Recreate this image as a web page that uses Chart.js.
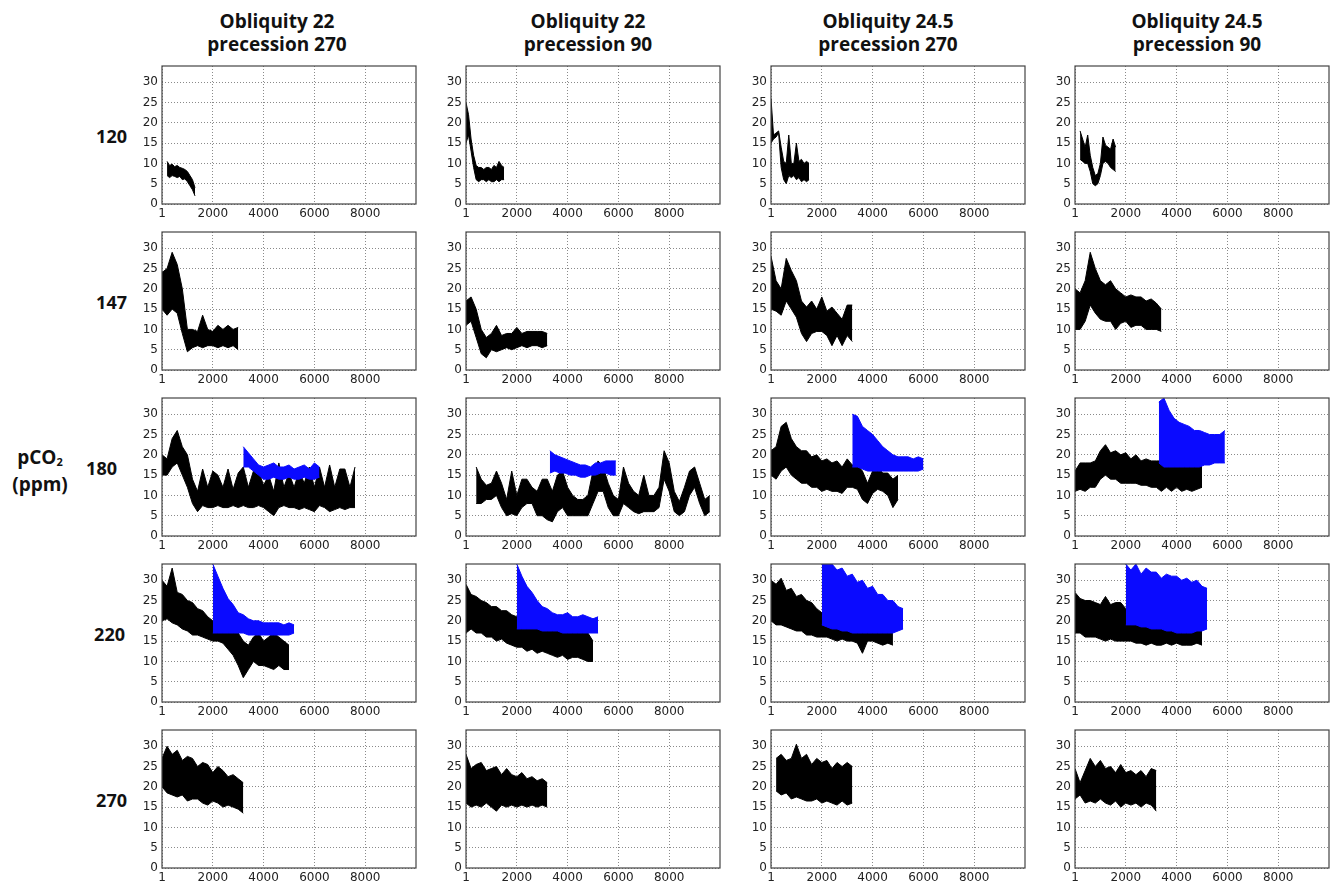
<!DOCTYPE html>
<html>
<head>
<meta charset="utf-8">
<script src="https://cdn.jsdelivr.net/npm/chart.js@4.4.1/dist/chart.umd.min.js"></script>
<style>
  body { margin: 0; background: #fff; width: 1331px; height: 888px; position: relative; overflow: hidden; font-family: "Open Sans", sans-serif; color: #111; }
  .head { position: absolute; top: 10px; width: 260px; text-align: center; font-weight: bold; font-size: 19px; line-height: 23px; }
  .rowlab { position: absolute; width: 60px; text-align: right; font-weight: bold; font-size: 18px; line-height: 20px; }
  .ylab { position: absolute; left: 0; top: 446px; width: 80px; text-align: center; font-weight: bold; font-size: 19px; line-height: 23px; }
  .ylab sub { font-size: 11px; vertical-align: -2px; }
  canvas { position: absolute; }
</style>
</head>
<body>
<div class="ylab">pCO<sub>2</sub><br>(ppm)</div>
<script>
const columns = [
  ["Obliquity 22", "precession 270"],
  ["Obliquity 22", "precession 90"],
  ["Obliquity 24.5", "precession 270"],
  ["Obliquity 24.5", "precession 90"]
];
const rows = ["120", "147", "180", "220", "270"];
const xTicks = [1, 2000, 4000, 6000, 8000];
const yTicks = [0, 5, 10, 15, 20, 25, 30];

// each run: [first year, spacing], then the low and high edge of the noisy trace
const x120a = [200, 100];
const lo120a = [7, 6.5, 7, 6.8, 6.5, 6.8, 6, 6.2, 5.5, 4.5, 3.5, 2];
const hi120a = [10.5, 9.5, 9.8, 9.2, 9.5, 9, 8.8, 8.5, 8, 7, 6, 4];
const x120b = [0, 100];
const lo120b = [15, 17, 13, 9, 6, 5.5, 6, 6, 5.5, 6, 5.5, 5.5, 6, 5.5, 6, 6];
const hi120b = [25, 22, 16, 12, 9.5, 9, 9, 8.5, 9, 9, 8.5, 9.5, 9, 10.5, 9.5, 9];
const x120c = [0, 100];
const lo120c = [15, 16, 16.5, 17.5, 9, 6, 5, 7, 6.5, 7, 6, 6.5, 5.5, 6, 5.5, 6];
const hi120c = [26, 17, 17.5, 18, 14, 10.5, 10, 17, 10, 10, 15, 10.5, 11, 10, 10.5, 10];
const x120d = [200, 100];
const lo120d = [11, 10.5, 10, 10, 8, 5, 4.5, 5, 7, 10, 10.5, 10, 9, 8.5, 8];
const hi120d = [18, 16, 14, 17, 12, 9, 7, 7.5, 10, 16.5, 14.5, 14, 13.5, 16, 14];

const x147a = [0, 200];
const lo147a = [15, 13.5, 15, 14, 9, 4.5, 5.5, 6, 5.5, 6, 6, 5.5, 6, 5.5, 6, 5];
const hi147a = [24, 25, 29, 26, 20, 10, 10, 9.5, 13.5, 10, 9.5, 11, 10, 11, 10, 10.5];
const x147b = [0, 200];
const lo147b = [11, 12, 8, 4, 3, 5, 4.5, 5, 5.5, 5, 5.5, 6, 5.5, 6, 6, 5.5, 6];
const hi147b = [17, 18, 15, 10, 8, 9, 11, 8.5, 9, 9, 10.5, 9, 9.5, 9.5, 9.5, 9.5, 9];
const x147c = [0, 200];
const lo147c = [15, 14.5, 13.5, 17, 15, 13, 9, 7, 9, 9.5, 9.5, 8.5, 6, 8.5, 6, 8.5, 7];
const hi147c = [28, 22, 20, 27.5, 24.5, 22, 17, 15.5, 17, 15, 18, 14.5, 15.5, 14, 12.5, 16, 16];
const x147d = [0, 200];
const lo147d = [10, 10, 12, 16, 14, 12.5, 12, 12, 10, 11.5, 12, 10.5, 11, 11, 10, 10, 10, 9.5];
const hi147d = [20, 19, 22, 29, 25, 22, 21, 22, 20, 19, 18, 18.5, 18, 18, 17, 17.5, 16.5, 15];

const x180a = [0, 200];
const lo180a = [15, 15, 17, 18, 15, 12, 8, 6, 7.5, 7, 7, 7.5, 7, 7, 7.5, 7, 7.5, 7, 7, 7.5,
  7, 6, 5, 7, 7.5, 7, 7, 6.5, 7, 6.5, 6, 7.5, 7, 6, 6.5, 7, 6.5, 7, 7];
const hi180a = [20, 19, 24, 26, 22, 20, 14, 11, 16.5, 12, 16, 15, 12, 16.5, 11.5, 15.5, 17, 12, 16, 16,
  12.5, 15, 11, 18, 12, 15.5, 12, 16, 13, 17, 12, 17, 12, 17.5, 12, 16.5, 16.5, 12, 17];
const bx180a = [3200, 200];
const blo180a = [17, 17, 16, 15, 14, 14, 14.5, 14, 14, 14.5, 14, 14, 14.5, 14, 14, 14.5];
const bhi180a = [22, 20.5, 19, 17.5, 17, 17.5, 18, 17, 17, 17.5, 16.5, 17, 17.5, 16.5, 18, 17];
const x180b = [400, 200];
const lo180b = [8, 8, 9, 9, 10, 7, 5, 5.5, 5, 7, 8, 8, 5, 5, 4, 3.5, 6, 7, 5, 5,
  5, 5, 5, 8, 11, 11, 7, 5, 5, 8, 7, 6, 5.5, 6, 6, 6, 7, 14, 11, 6, 5, 6, 10, 12, 8, 5, 6];
const hi180b = [17, 14, 12.5, 13, 16, 13, 9, 16, 10, 14, 14, 12, 11, 14, 14, 11, 15, 16, 12, 10,
  9, 9, 10, 16, 18.5, 17, 13, 10, 9, 17, 13, 11, 10, 15, 10, 10, 12, 21, 18, 11, 8.5, 12, 16, 17, 13, 9, 10];
const bx180b = [3300, 200];
const blo180b = [15.5, 16, 15.5, 15.5, 15, 15, 14.5, 14.5, 15, 15, 15.5, 15.5, 15, 15];
const bhi180b = [21, 20, 19.5, 19, 18.5, 18, 17.5, 17.5, 17, 18, 18, 18.5, 18.5, 18.5];
const x180c = [0, 200];
const lo180c = [15, 14, 16, 17, 15, 14, 13, 13, 12, 12, 11, 11.5, 11, 11, 10.5, 12, 12, 11.5, 9, 8, 10.5, 11.5, 11, 10, 7, 9];
const hi180c = [21, 22, 27, 28, 24, 22, 21, 21, 19.5, 20, 18.5, 19, 18, 18.5, 17, 19, 17.5, 17.5, 16, 13, 16, 17, 15.5, 15.5, 14, 15];
const bx180c = [3200, 200];
const blo180c = [17, 17, 16.5, 16, 16, 16, 16, 16, 16, 16, 16, 16, 16, 16, 16.5];
const bhi180c = [30, 29.5, 27, 26, 25, 23.5, 22, 21, 20, 19.5, 19.5, 19.5, 19, 19.5, 19];
const x180d = [0, 200];
const lo180d = [11, 11.5, 11, 12, 12, 14, 15, 14, 14, 13, 13, 13, 13, 12.5, 12.5, 12, 12, 11, 12, 11, 12, 11, 11.5, 11, 11.5, 12];
const hi180d = [16, 18, 18, 18, 18.5, 21, 22.5, 20.5, 21, 20, 20.5, 19, 20, 18.5, 19, 18.5, 18.5, 18.5, 18.5, 18, 18.5, 17.5, 19, 17.5, 18.5, 18];
const bx180d = [3300, 200];
const blo180d = [18, 17, 17, 17, 17, 17, 17, 17, 17, 17.5, 17.5, 18, 18, 18];
const bhi180d = [33, 34, 31, 29, 28, 27.5, 27, 26, 26, 25.5, 25, 25, 25, 26];

const x220a = [0, 200];
const lo220a = [20, 20.5, 19.5, 19, 18, 17.5, 16.5, 16.5, 16, 15.5, 15, 15, 14.5, 13, 11.5, 9, 6, 8, 10, 9, 9, 8.5, 8, 9, 8, 8];
const hi220a = [30, 28.5, 33, 27, 26.5, 25, 24.5, 23, 22.5, 21, 20, 19.5, 19, 18, 18, 17, 15, 14, 16, 17, 15, 16, 17, 16, 15, 14];
const bx220a = [2000, 200];
const blo220a = [17, 17, 17, 17, 17, 17, 17, 16.5, 16.5, 16.5, 16.5, 16.5, 16.5, 16.5, 16.5, 16.5, 17];
const bhi220a = [34, 31, 28, 25.5, 24, 22, 21.5, 20.5, 20, 20, 19.5, 19.5, 19.5, 19.5, 19, 19.5, 19];
const x220b = [0, 200];
const lo220b = [17, 18, 17, 17, 16, 16, 15, 15.5, 14.5, 14, 13.5, 13.5, 12.5, 13, 12, 12.5, 12, 11.5, 11, 11.5, 10.5, 11, 11, 10.5, 10, 10];
const hi220b = [29, 26.5, 26, 25, 24.5, 23.5, 23.5, 22.5, 22.5, 21.5, 21, 20, 20, 20, 20, 19, 19, 18, 18, 18, 18, 18, 17.5, 18, 17, 15];
const bx220b = [2000, 200];
const blo220b = [18, 18, 18, 18, 18, 17.5, 17.5, 17.5, 17.5, 17, 17, 17, 17, 17, 17, 17, 17];
const bhi220b = [34, 31, 28.5, 27, 25, 23.5, 23, 22, 21.5, 21.5, 22, 21, 21, 21.5, 21, 20.5, 21];
const x220c = [0, 200];
const lo220c = [20, 19, 19, 18.5, 18, 17.5, 17.5, 16.5, 16.5, 16, 16, 16, 15.5, 15, 15.5, 15, 15, 14.5, 12, 15, 15, 14.5, 14, 14.5, 14];
const hi220c = [30, 29, 30.5, 27.5, 28, 26, 26.5, 25, 24.5, 23, 22, 21, 21, 20, 20, 20, 19.5, 19, 19, 19, 19, 19, 19, 19, 19];
const bx220c = [2000, 200];
const blo220c = [19, 18.5, 18, 18, 17.5, 17.5, 17, 17, 17, 17, 17, 17, 17, 17, 17, 17.5, 18];
const bhi220c = [34, 34, 34, 32.5, 33, 31, 31.5, 29.5, 30, 28, 28.5, 26.5, 26.5, 25, 25, 23.5, 23];
const x220d = [0, 200];
const lo220d = [17, 17, 16, 16, 16, 15.5, 15, 15.5, 15, 15, 15, 15, 14.5, 14.5, 14, 14.5, 14, 14, 14.5, 14, 14.5, 14, 14, 14, 14.5, 14];
const hi220d = [27, 25.5, 25, 25, 24.5, 24, 26, 24, 24.5, 24.5, 23, 21, 21, 20, 20, 20, 20, 19.5, 19.5, 20, 20, 19.5, 19.5, 19.5, 19.5, 19];
const bx220d = [2000, 200];
const blo220d = [19, 19, 19, 18.5, 18.5, 18, 18, 18, 17.5, 17.5, 17, 17, 17, 17, 17.5, 17.5, 18];
const bhi220d = [34, 32.5, 34, 31.5, 33, 32, 32, 30.5, 31.5, 31, 31, 30, 30.5, 29.5, 30, 28.5, 28];

const x270a = [0, 200];
const lo270a = [20, 18.5, 18, 17.5, 18, 16.5, 17, 17, 16, 15.5, 16.5, 16, 15, 15.5, 15, 14.5, 13.5];
const hi270a = [27, 30, 28, 29, 26.5, 27.5, 27, 25, 26, 25.5, 23.5, 25, 24, 22.5, 23, 22, 21];
const x270b = [0, 200];
const lo270b = [16, 15, 15.5, 15, 16, 15, 14, 15.5, 15, 15.5, 15, 15.5, 15, 15.5, 15, 15.5, 15];
const hi270b = [28, 24.5, 25.5, 26, 24, 24.5, 25, 23, 24.5, 23, 22.5, 23.5, 22, 22.5, 21.5, 22, 21];
const x270c = [200, 200];
const lo270c = [19, 18, 18.5, 17, 17.5, 17, 16.5, 16.5, 17, 16, 16.5, 16, 15.5, 16.5, 15.5, 16];
const hi270c = [27, 28, 26.5, 27, 30.5, 27, 28, 25.5, 27, 26, 26.5, 24.5, 26, 25, 26, 25];
const x270d = [0, 200];
const lo270d = [17, 18, 16, 16.5, 16, 17, 16, 15.5, 16.5, 15, 16, 15.5, 16, 15, 16, 15.5, 14];
const hi270d = [24.5, 21, 24, 27, 25, 26.5, 24.5, 25, 23.5, 25.5, 23.5, 24, 23, 24, 22.5, 24.5, 24];

const black = {
  "120a": [x120a, lo120a, hi120a], "120b": [x120b, lo120b, hi120b], "120c": [x120c, lo120c, hi120c], "120d": [x120d, lo120d, hi120d],
  "147a": [x147a, lo147a, hi147a], "147b": [x147b, lo147b, hi147b], "147c": [x147c, lo147c, hi147c], "147d": [x147d, lo147d, hi147d],
  "180a": [x180a, lo180a, hi180a], "180b": [x180b, lo180b, hi180b], "180c": [x180c, lo180c, hi180c], "180d": [x180d, lo180d, hi180d],
  "220a": [x220a, lo220a, hi220a], "220b": [x220b, lo220b, hi220b], "220c": [x220c, lo220c, hi220c], "220d": [x220d, lo220d, hi220d],
  "270a": [x270a, lo270a, hi270a], "270b": [x270b, lo270b, hi270b], "270c": [x270c, lo270c, hi270c], "270d": [x270d, lo270d, hi270d]
};
const blue = {
  "180a": [bx180a, blo180a, bhi180a], "180b": [bx180b, blo180b, bhi180b], "180c": [bx180c, blo180c, bhi180c], "180d": [bx180d, blo180d, bhi180d],
  "220a": [bx220a, blo220a, bhi220a], "220b": [bx220b, blo220b, bhi220b], "220c": [bx220c, blo220c, bhi220c], "220d": [bx220d, blo220d, bhi220d]
};

// page layout (pixels)
const colLeft = [162, 466, 771, 1075];
const rowTop = [66, 232, 398, 564, 730];
const rowLabRight = [127, 127, 117, 125, 127];
const titleX = [277, 588, 888, 1197];
const PW = 254, PH = 138;
const AXW = 40, AXH = 22, PADT = 6, PADR = 16;

Chart.defaults.font.family = "DejaVu Sans";
Chart.defaults.font.size = 12;
Chart.defaults.color = "#222";

const frame = {
  id: "frame",
  afterDraw(chart) {
    const a = chart.chartArea, ctx = chart.ctx;
    ctx.save();
    ctx.strokeStyle = "#444";
    ctx.lineWidth = 1.2;
    ctx.strokeRect(a.left, a.top, a.right - a.left, a.bottom - a.top);
    ctx.restore();
  }
};

function pts(k, vals) {
  return vals.map((v, i) => ({ x: k[0] + i * k[1], y: v }));
}

function band(run, color, base) {
  const [k, lo, hi] = run;
  const line = { borderColor: color, backgroundColor: color, borderWidth: 1, pointRadius: 0, tension: 0 };
  return [
    Object.assign({ data: pts(k, lo), fill: false }, line),
    Object.assign({ data: pts(k, hi), fill: base }, line)
  ];
}

columns.forEach((c, j) => {
  const d = document.createElement("div");
  d.className = "head";
  d.style.left = (titleX[j] - 130) + "px";
  d.innerHTML = c.join("<br>");
  document.body.appendChild(d);
});

const charts = [];

rows.forEach((r, i) => {
  const d = document.createElement("div");
  d.className = "rowlab";
  d.style.left = (rowLabRight[i] - 60) + "px";
  d.style.top = (rowTop[i] + 60) + "px";
  d.textContent = r;
  document.body.appendChild(d);

  ["a", "b", "c", "d"].forEach((col, j) => {
    const key = r + col;
    const cv = document.createElement("canvas");
    cv.width = PW + AXW + PADR;
    cv.height = PH + PADT + AXH;
    cv.style.left = (colLeft[j] - AXW) + "px";
    cv.style.top = (rowTop[i] - PADT) + "px";
    document.body.appendChild(cv);

    let datasets = [];
    if (blue[key]) datasets = band(blue[key], "#0a0aff", 0);
    datasets = datasets.concat(band(black[key], "#000", datasets.length));

    charts.push(new Chart(cv, {
      type: "line",
      data: { datasets },
      plugins: [frame],
      options: {
        responsive: false,
        animation: false,
        events: [],
        layout: { padding: { left: 0, top: PADT, right: PADR, bottom: 0 } },
        plugins: { legend: { display: false }, tooltip: { enabled: false } },
        scales: {
          x: {
            type: "linear", min: 0, max: 10000,
            afterBuildTicks: s => { s.ticks = xTicks.map(v => ({ value: v })); },
            afterFit: s => { s.height = AXH; s.paddingLeft = 0; s.paddingRight = 0; },
            grid: { color: "#8a8a8a", drawTicks: false },
            border: { display: false, dash: [1, 2] },
            ticks: { padding: 3, maxRotation: 0, autoSkip: false, callback: v => String(v) }
          },
          y: {
            min: 0, max: 34,
            afterBuildTicks: s => { s.ticks = yTicks.map(v => ({ value: v })); },
            afterFit: s => { s.width = AXW; s.paddingTop = 0; s.paddingBottom = 0; },
            grid: { color: "#8a8a8a", drawTicks: false },
            border: { display: false, dash: [1, 2] },
            ticks: { padding: 4, autoSkip: false, callback: v => String(v) }
          }
        }
      }
    }));
  });
});

// second pass: the very first chart is sometimes laid out before the tick font is measured
charts.forEach(c => c.update("none"));
</script>
</body>
</html>
